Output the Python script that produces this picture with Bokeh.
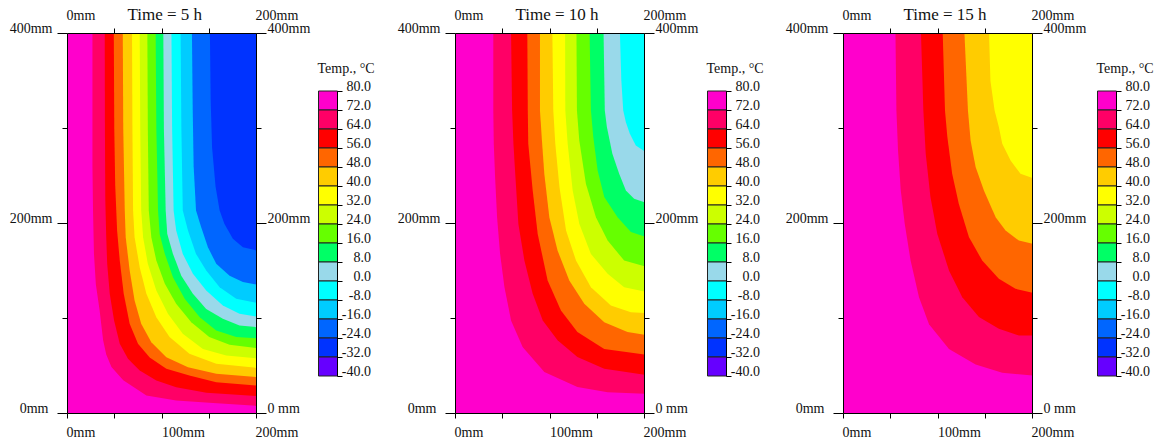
from bokeh.embed import file_html
from bokeh.resources import INLINE
from bokeh.layouts import row
from bokeh.models import FixedTicker, Label, LinearAxis, Range1d
from bokeh.plotting import figure

LEVELS = [80, 72, 64, 56, 48, 40, 32, 24, 16, 8, 0, -8, -16, -24, -32, -40]
BAND_COLORS = ["#FF00CC", "#FF0066", "#FF0000", "#FF6600", "#FFCC00", "#FFFF00", "#CCFF00", "#66FF00",
               "#00FF66", "#99D9EA", "#00FFFF", "#00CCFF", "#0066FF", "#0033FF", "#6600FF"]
TITLES = ["Time = 5 h", "Time = 10 h", "Time = 15 h"]
Y_TICKS = [0, 200, 400]
Y_MINOR = [100, 300]
X_TICKS_TOP = [50, 100, 150]
X_TICKS_BOTTOM = [0, 50, 100, 150, 200]

# Isotherms in mm, each running from the top edge to the right edge (72, 64, 56 ... degrees)
T5_72X = [26.4, 26.4, 27, 28, 30, 34, 37.7, 41, 46.5, 59, 83.5, 115, 154, 200]
T5_72Y = [400, 260, 213.7, 168, 136, 108.5, 77, 62, 49, 35, 19, 13.7, 11, 8]
T5_64X = [39.4, 39.6, 40, 41, 42, 44.7, 49.3, 55.3, 64, 76.4, 94, 115, 147, 200]
T5_64Y = [400, 300, 225, 185.6, 157.6, 126, 98, 73.4, 57.6, 45.3, 34.7, 27.7, 21.8, 18.5]
T5_56X = [49, 49.5, 50.5, 52.5, 55.3, 59.5, 65.8, 74.6, 87, 104.6, 129, 157.4, 200]
T5_56Y = [400, 300, 240, 192.6, 161, 126, 94.4, 73.4, 59, 47, 40, 33, 29.5]
T5_48X = [58.5, 59, 60.6, 61.6, 65.8, 71, 78, 88.7, 104.6, 127.5, 157.4, 200]
T5_48Y = [400, 300, 213.7, 185.6, 150.5, 119, 94.4, 75, 59.3, 48.8, 41.8, 38.3]
T5_40X = [68.3, 68.7, 69.4, 71, 76.4, 83.5, 94, 108, 129, 157.4, 200]
T5_40Y = [400, 300, 213.7, 185.6, 154, 126, 101.4, 80.4, 62.8, 52.3, 48]
T5_32X = [76.4, 77, 78, 80, 85, 94, 106.3, 122, 143.3, 168, 200]
T5_32Y = [400, 300, 213.7, 185.6, 157.6, 129.5, 104.9, 83.9, 68, 61, 58]
T5_24X = [84.5, 85, 86, 88.7, 94, 103, 115, 131, 150, 171.5, 200]
T5_24Y = [400, 300, 213.7, 185.6, 161, 136.5, 115.5, 96, 80.4, 72.3, 68.8]
T5_16X = [93.3, 94, 95.8, 97.5, 103, 111.6, 124, 140, 157.4, 178.5, 200]
T5_16Y = [400, 300, 213.7, 189, 168, 143.5, 120.7, 101.4, 87.4, 80.4, 79.3]
T5_8X = [101.4, 102, 103.9, 105.6, 111.6, 120.4, 132.7, 146.8, 164.4, 182, 200]
T5_8Y = [400, 300, 213.7, 189, 168, 145, 126, 110, 99.7, 92.6, 90.9]
T5_0X = [110, 110.7, 112.3, 115, 122, 132.7, 146.8, 164.4, 182, 200]
T5_0Y = [400, 300, 213.7, 192.6, 168, 147, 129.5, 113.7, 104.9, 102]
T5_M8X = [119.7, 120.5, 122, 127.5, 136, 146.8, 161, 178.5, 200]
T5_M8Y = [400, 300, 213.7, 192.6, 168, 150.5, 133, 120.7, 116.5]
T5_M16X = [131.7, 132.5, 133.5, 136, 141.5, 148.6, 157.4, 171.5, 185.6, 200]
T5_M16Y = [400, 320, 260, 213.7, 196, 175, 157.6, 145, 138.3, 135.8]
T5_M24X = [150.7, 151.5, 153, 156.7, 161, 166, 175, 185.6, 200]
T5_M24Y = [400, 330, 280, 238.6, 213.7, 199.7, 184, 175, 171.6]

T10_72X = [40, 40, 40.5, 41.9, 44, 47.2, 51.8, 58.8, 71, 94, 129, 161, 200]
T10_72Y = [400, 319, 284, 249, 206.7, 168, 133, 98, 70, 43.6, 27.8, 22.5, 20.7]
T10_64X = [58.8, 59.9, 61.3, 63.4, 66.5, 72.9, 81.7, 92.3, 108, 129, 157.4, 200]
T10_64Y = [400, 319, 284, 249, 199.7, 161, 126, 98, 77, 59.4, 47, 40.8]
T10_56X = [76, 76.5, 77, 81.7, 87, 97.5, 111.6, 129, 157.4, 200]
T10_56Y = [400, 319, 284, 234.8, 189, 140, 108.5, 85.7, 68, 62]
T10_48X = [89.4, 89.4, 91.2, 94, 99.3, 108, 120.4, 136.3, 157.4, 182, 200]
T10_48Y = [400, 319, 291, 252, 206.7, 171.6, 140, 115.5, 96, 85.7, 82.9]
T10_40X = [102.5, 103.5, 105.6, 110, 117, 127.5, 143.3, 164.4, 185.6, 200]
T10_40Y = [400, 319, 284, 238.3, 192.7, 161, 133, 113.7, 106.7, 105.7]
T10_32X = [116, 116.2, 118.7, 124, 131, 143.3, 161, 178.5, 200]
T10_32Y = [400, 319, 284, 234.8, 199.7, 168, 147, 133, 128.5]
T10_24X = [128, 128.5, 131, 138, 148.6, 161, 178.5, 200]
T10_24Y = [400, 319, 287.4, 241.8, 206.7, 182, 161, 155]
T10_16X = [141.9, 143.3, 145.8, 150.4, 157.4, 171.5, 185.6, 200]
T10_16Y = [400, 319, 291, 255.8, 227.8, 206.7, 191, 186.4]
T10_8X = [156.7, 158, 160.2, 166, 173.2, 180.3, 189, 200]
T10_8Y = [400, 319, 301.5, 273.4, 252.3, 234.8, 226, 222.5]
T10_0X = [174, 175.5, 177.5, 180.3, 184.5, 190.8, 200]
T10_0Y = [400, 350, 319, 306.7, 294.4, 282, 276]

T15_72X = [55, 56, 57.7, 60.6, 64.8, 71, 79.9, 90.5, 111.6, 139.8, 168, 200]
T15_72Y = [400, 319, 277, 234.8, 199.7, 161, 122.5, 94, 68, 51.6, 42.9, 40]
T15_64X = [82, 84.5, 87, 92, 99.3, 111.6, 125.7, 143.3, 164.4, 185.6, 200]
T15_64Y = [400, 319, 273.4, 227.8, 189, 150.6, 122.5, 101.5, 89.2, 82, 82]
T15_56X = [105, 107.4, 109.9, 115, 122, 132.7, 146.8, 164.4, 182, 200]
T15_56Y = [400, 319, 291, 252.3, 220.8, 185.7, 161, 141.8, 131.3, 127]
T15_48X = [128, 131.7, 134.5, 139.8, 148.6, 161, 171.5, 185.6, 200]
T15_48Y = [400, 319, 287.4, 259.4, 234.8, 206.7, 192.7, 182, 178.6]
T15_40X = [154, 155.5, 159.9, 164.4, 168, 176.8, 187.3, 200]
T15_40Y = [400, 350, 319, 301.5, 284, 266.4, 252.3, 247.8]

T5_LINES = [(T5_72X, T5_72Y), (T5_64X, T5_64Y), (T5_56X, T5_56Y), (T5_48X, T5_48Y), (T5_40X, T5_40Y),
            (T5_32X, T5_32Y), (T5_24X, T5_24Y), (T5_16X, T5_16Y), (T5_8X, T5_8Y), (T5_0X, T5_0Y),
            (T5_M8X, T5_M8Y), (T5_M16X, T5_M16Y), (T5_M24X, T5_M24Y)]
T10_LINES = [(T10_72X, T10_72Y), (T10_64X, T10_64Y), (T10_56X, T10_56Y), (T10_48X, T10_48Y), (T10_40X, T10_40Y),
             (T10_32X, T10_32Y), (T10_24X, T10_24Y), (T10_16X, T10_16Y), (T10_8X, T10_8Y), (T10_0X, T10_0Y)]
T15_LINES = [(T15_72X, T15_72Y), (T15_64X, T15_64Y), (T15_56X, T15_56Y), (T15_48X, T15_48Y), (T15_40X, T15_40Y)]

FONT = "Liberation Serif"
FIG_H = 441
PLOT_TOP, PLOT_BOTTOM = 33, 413
PLOT_W = 189
BAR_TOP, BAR_BOTTOM = 90.5, 375.5
BAR_W = 19


def base_figure(width, x_range, y_range):
    p = figure(width=width, height=FIG_H, x_range=x_range, y_range=y_range,
               x_axis_type=None, y_axis_type=None, toolbar_location=None, output_backend="svg",
               min_border=0)
    p.grid.visible = False
    p.outline_line_color = None
    return p


def text(p, x, y, s, dx=0, dy=0, align="left", size="14px"):
    p.add_layout(Label(x=x, y=y, x_units="data", y_units="data", x_offset=dx, y_offset=dy, text=s,
                       text_font=FONT, text_font_size=size, text_align=align,
                       text_baseline="middle", text_color="#111111"))


def add_axis(p, side, where, bounds, ticks, minor, major_out, minor_out):
    ax = LinearAxis(ticker=FixedTicker(ticks=ticks, minor_ticks=minor), fixed_location=where, bounds=bounds)
    ax.major_tick_in = 0
    ax.minor_tick_in = 0
    ax.major_tick_out = major_out
    ax.minor_tick_out = minor_out
    ax.major_label_text_font_size = "0px"
    ax.major_label_text_color = None
    ax.major_label_standoff = 0
    ax.axis_line_color = "black"
    ax.major_tick_line_color = "black"
    ax.minor_tick_line_color = "black"
    p.add_layout(ax, side)


def panel(width, left, lines, title):
    kx = PLOT_W / 200
    ky = (PLOT_BOTTOM - PLOT_TOP) / 400
    x_range = Range1d(-left / kx, (width - left) / kx)
    y_range = Range1d(-(FIG_H - PLOT_BOTTOM) / ky, 400 + PLOT_TOP / ky)
    p = base_figure(width, x_range, y_range)
    p.quad(left=[0], right=[200], bottom=[0], top=[400], color=BAND_COLORS[0], line_color=None)
    for (xs, ys), color in zip(lines, BAND_COLORS[1:]):
        p.patch(xs + [200], ys + [400], fill_color=color, line_color=None)
    add_axis(p, "left", 0, (0, 400), Y_TICKS, Y_MINOR, 10, 5)
    add_axis(p, "right", 200, (0, 400), Y_TICKS, Y_MINOR, 10, 5)
    add_axis(p, "above", 400, (0, 200), X_TICKS_TOP, [], 5, 0)
    add_axis(p, "below", 0, (0, 200), X_TICKS_BOTTOM, [], 5, 0)
    text(p, 0, 400, "400mm", dx=-15, dy=5, align="right")
    text(p, 0, 200, "200mm", dx=-15, dy=5, align="right")
    text(p, 0, 0, "0mm", dx=-19, dy=5, align="right")
    text(p, 200, 400, "400mm", dx=11, dy=5)
    text(p, 200, 200, "200mm", dx=11, dy=5)
    text(p, 200, 0, "0 mm", dx=11, dy=5)
    text(p, 0, 400, "0mm", dx=-1, dy=18)
    text(p, 200, 400, "200mm", dx=-1, dy=18)
    text(p, 0, 400, title, dx=60, dy=19, size="17px")
    text(p, 0, 0, "0mm", dx=-1, dy=-18.5)
    text(p, 100, 0, "100mm", dx=0, dy=-18.5)
    text(p, 200, 0, "200mm", dx=-1, dy=-18.5)
    return p


def color_bar(width, left):
    kx = BAR_W
    ky = (BAR_BOTTOM - BAR_TOP) / 120
    x_range = Range1d(-left / kx, (width - left) / kx)
    y_range = Range1d(-40 - (FIG_H - BAR_BOTTOM) / ky, 80 + BAR_TOP / ky)
    p = base_figure(width, x_range, y_range)
    p.quad(left=0, right=1, top=LEVELS[:-1], bottom=LEVELS[1:], fill_color=BAND_COLORS,
           line_color="#222222", line_width=1)
    add_axis(p, "right", 1, (-40, 80), LEVELS, [], 5, 0)
    for v in LEVELS:
        text(p, 1, v, f"{v:.1f}", dx=33.5, dy=5.5, align="right")
    text(p, 0, 80, "Temp., \u00b0C", dx=-1, dy=23, size="14px")
    return p


page = row(panel(311, 67, T5_LINES, TITLES[0]), color_bar(85, 7),
           panel(303, 59, T10_LINES, TITLES[1]), color_bar(85, 8),
           panel(303, 59, T15_LINES, TITLES[2]), color_bar(71, 10),
           spacing=0)

open("out.html", "w").write(file_html(page, INLINE))
